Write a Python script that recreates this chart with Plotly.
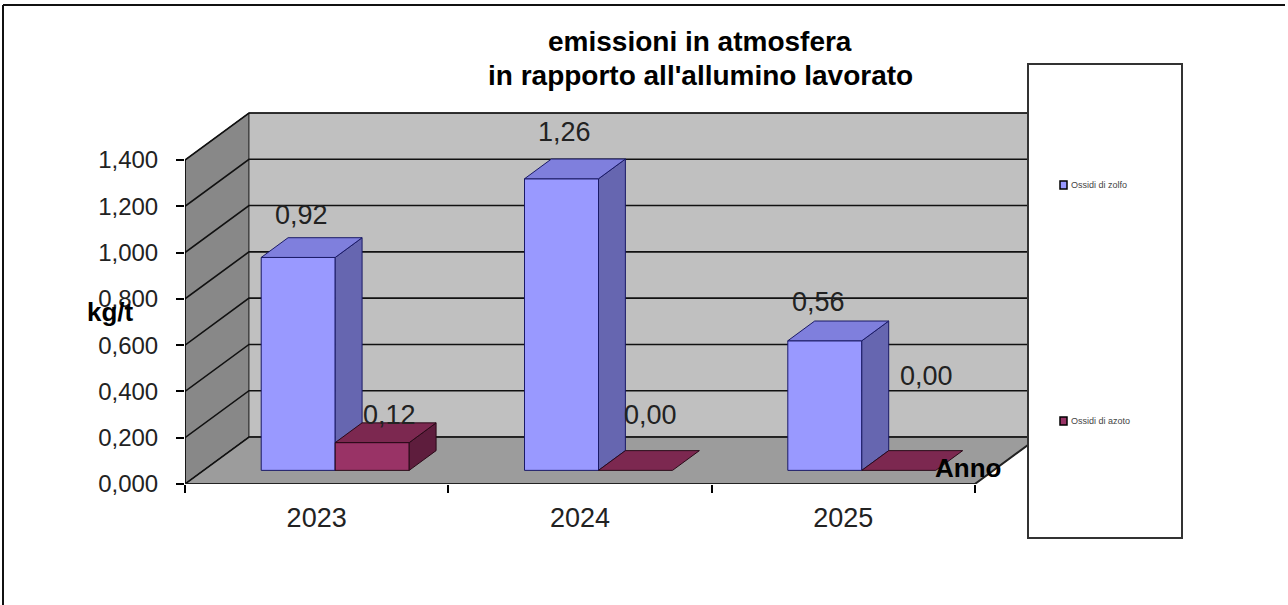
import plotly.graph_objects as go

# ---- data -------------------------------------------------------------
years = ["2023", "2024", "2025"]
ossidi_zolfo = [0.92, 1.26, 0.56]
ossidi_azoto = [0.12, 0.00, 0.00]
series_names = ["Ossidi di zolfo", "Ossidi di azoto"]
y_ticks = [0.0, 0.2, 0.4, 0.6, 0.8, 1.0, 1.2, 1.4]
title_lines = ["emissioni in atmosfera", "in rapporto all'allumino lavorato"]

# ---- page geometry ----------------------------------------------------
W, H = 1288, 605
ML, MR, MT, MB = 185, 245, 109, 121
PLOT_W = W - ML - MR
PLOT_H = H - MT - MB
PX_PER_CAT = 263.3      # horizontal pixels per category
PX_PER_UNIT = 231.43    # vertical pixels per kg/t

X_RANGE = [0, PLOT_W / PX_PER_CAT]
Y_RANGE = [0, PLOT_H / PX_PER_UNIT]

# oblique depth of the pseudo-3D box, in axis units
DEPTH_X = 64 / PX_PER_CAT
DEPTH_Y = 47 / PX_PER_UNIT
BAR_W = 74 / PX_PER_CAT
F0, F1 = 0.29, 0.71     # bar front / back position inside the depth

FONT = "Arial, Liberation Sans, sans-serif"
SERIES_STYLE = [
    dict(front="#9999FF", top="#7F7FDD", side="#6666B0", edge="#1A1A66"),
    dict(front="#993366", top="#7C2850", side="#5E1D3D", edge="#2A0A18"),
]
WALL_LEFT, WALL_BACK, FLOOR = "#888888", "#C0C0C0", "#9C9C9C"

# pixel nudges for the value labels (dx, dy), same order as the bars
LABEL_NUDGE = [
    [(-10, 23), (-10, 27), (-20, 19)],
    [(4, 8), (2, 36), (14, 75)],
]


def px_x(p):
    return (p - ML) / PLOT_W


def px_y(p):
    return (H - MB - p) / PLOT_H


fig = go.Figure()


def poly(xs, ys, fill, line_color="#000000", width=1.0):
    fig.add_trace(go.Scatter(
        x=list(xs) + [xs[0]], y=list(ys) + [ys[0]],
        mode="lines", fill="toself", fillcolor=fill,
        line=dict(color=line_color, width=width),
        hoverinfo="skip", showlegend=False,
    ))


def path(xs, ys, color="#000000", width=1.5):
    fig.add_trace(go.Scatter(
        x=xs, y=ys, mode="lines", line=dict(color=color, width=width),
        hoverinfo="skip", showlegend=False,
    ))


n = len(years)
y_top = y_ticks[-1]

# walls and floor
poly([0, 0, DEPTH_X, DEPTH_X], [0, y_top, y_top + DEPTH_Y, DEPTH_Y], WALL_LEFT, "#333333", 1)
poly([DEPTH_X, DEPTH_X, n + DEPTH_X, n + DEPTH_X],
     [DEPTH_Y, y_top + DEPTH_Y, y_top + DEPTH_Y, DEPTH_Y], WALL_BACK, "#333333", 1)
poly([0, n, n + DEPTH_X, DEPTH_X], [0, 0, DEPTH_Y, DEPTH_Y], FLOOR, "#333333", 1)

# gridlines across the left and back walls
for v in y_ticks:
    path([0, DEPTH_X, n + DEPTH_X], [v, v + DEPTH_Y, v + DEPTH_Y], "#111111", 1.6)

# front edges of the box
path([0, 0], [0, y_top], "#000000", 1.5)
path([0, n, n + DEPTH_X], [0, 0, DEPTH_Y], "#222222", 2)

# bars, drawn left to right so nearer faces overlap correctly
base_dx, base_dy = F0 * DEPTH_X, F0 * DEPTH_Y
dd_x, dd_y = (F1 - F0) * DEPTH_X, (F1 - F0) * DEPTH_Y
series_values = [ossidi_zolfo, ossidi_azoto]
label_pts = []
for i in range(n):
    centre = i + 0.5 + base_dx
    for s, values in enumerate(series_values):
        v = values[i]
        st = SERIES_STYLE[s]
        x0 = centre - BAR_W + s * BAR_W
        x1 = x0 + BAR_W
        y0, y1 = base_dy, base_dy + v
        if v > 0:
            poly([x0, x1, x1, x0], [y0, y0, y1, y1], st["front"], st["edge"], 1)
            poly([x1, x1 + dd_x, x1 + dd_x, x1], [y0, y0 + dd_y, y1 + dd_y, y1],
                 st["side"], st["edge"], 1)
        poly([x0, x1, x1 + dd_x, x0 + dd_x], [y1, y1, y1 + dd_y, y1 + dd_y],
             st["top"], st["edge"], 1)
        label_pts.append((s, i, (x0 + x1) / 2 + dd_x / 2, y1 + dd_y, v))

annotations = []
for s, i, lx, ly, v in label_pts:
    nx, ny = LABEL_NUDGE[s][i]
    annotations.append(dict(
        x=lx, y=ly, xref="x", yref="y", text=f"{v:.2f}".replace(".", ","),
        showarrow=False, xanchor="center", yanchor="middle",
        xshift=nx, yshift=ny, font=dict(family=FONT, size=27, color="#222222"),
    ))

# title and axis titles
for line, yc in zip(title_lines, [42, 75]):
    annotations.append(dict(
        x=px_x(700), y=px_y(yc), xref="paper", yref="paper",
        text=f"<b>{line}</b>", showarrow=False,
        xanchor="center", yanchor="middle",
        font=dict(family=FONT, size=28, color="#000000"),
    ))
annotations.append(dict(
    x=px_x(110), y=px_y(312), xref="paper", yref="paper", text="<b>kg/t</b>",
    showarrow=False, xanchor="center", yanchor="middle",
    font=dict(family=FONT, size=26, color="#000000"),
))
annotations.append(dict(
    x=px_x(968), y=px_y(468), xref="paper", yref="paper", text="<b>Anno</b>",
    showarrow=False, xanchor="center", yanchor="middle",
    font=dict(family=FONT, size=26, color="#000000"),
))

# legend panel
shapes = [
    dict(type="rect", xref="paper", yref="paper",
         x0=px_x(1028), x1=px_x(1182), y0=px_y(538), y1=px_y(64),
         fillcolor="#FFFFFF", line=dict(color="#333333", width=2), layer="above"),
    # outer frame
    dict(type="line", xref="paper", yref="paper",
         x0=px_x(3), x1=px_x(1285), y0=px_y(5), y1=px_y(5),
         line=dict(color="#111111", width=2), layer="above"),
    dict(type="line", xref="paper", yref="paper",
         x0=px_x(3), x1=px_x(3), y0=px_y(605), y1=px_y(5),
         line=dict(color="#111111", width=2), layer="above"),
]
legend_rows = [185, 421]
for s, name in enumerate(series_names):
    yc = legend_rows[s]
    shapes.append(dict(
        type="rect", xref="paper", yref="paper",
        x0=px_x(1060), x1=px_x(1067), y0=px_y(yc + 4), y1=px_y(yc - 4),
        fillcolor=SERIES_STYLE[s]["front"], line=dict(color="#000000", width=1.5),
        layer="above",
    ))
    annotations.append(dict(
        x=px_x(1069), y=px_y(yc), xref="paper", yref="paper", text=name,
        showarrow=False, xanchor="left", yanchor="middle",
        font=dict(family=FONT, size=9, color="#444444"),
    ))

fig.update_layout(
    width=W, height=H,
    margin=dict(l=ML, r=MR, t=MT, b=MB, pad=0),
    paper_bgcolor="#FFFFFF", plot_bgcolor="rgba(0,0,0,0)",
    separators=",.",
    showlegend=False,
    annotations=annotations,
    shapes=shapes,
    xaxis=dict(
        range=X_RANGE, showgrid=False, zeroline=False, showline=False,
        tickvals=[i + 0.5 for i in range(n)], ticktext=years,
        ticks="outside", ticklen=10, tickcolor="rgba(0,0,0,0)",
        tickfont=dict(family=FONT, size=27, color="#222222"),
        minor=dict(tickvals=list(range(n + 1)), ticks="outside", ticklen=8,
                   tickcolor="#000000", tickwidth=1.5, showgrid=False),
    ),
    yaxis=dict(
        range=Y_RANGE, showgrid=False, zeroline=False, showline=False,
        tickvals=y_ticks, tickformat=".3f",
        ticks="outside", ticklen=8, tickcolor="#000000", tickwidth=1.5,
        ticklabelstandoff=13,
        tickfont=dict(family=FONT, size=24, color="#222222"),
    ),
)

fig.write_html("out.html")
